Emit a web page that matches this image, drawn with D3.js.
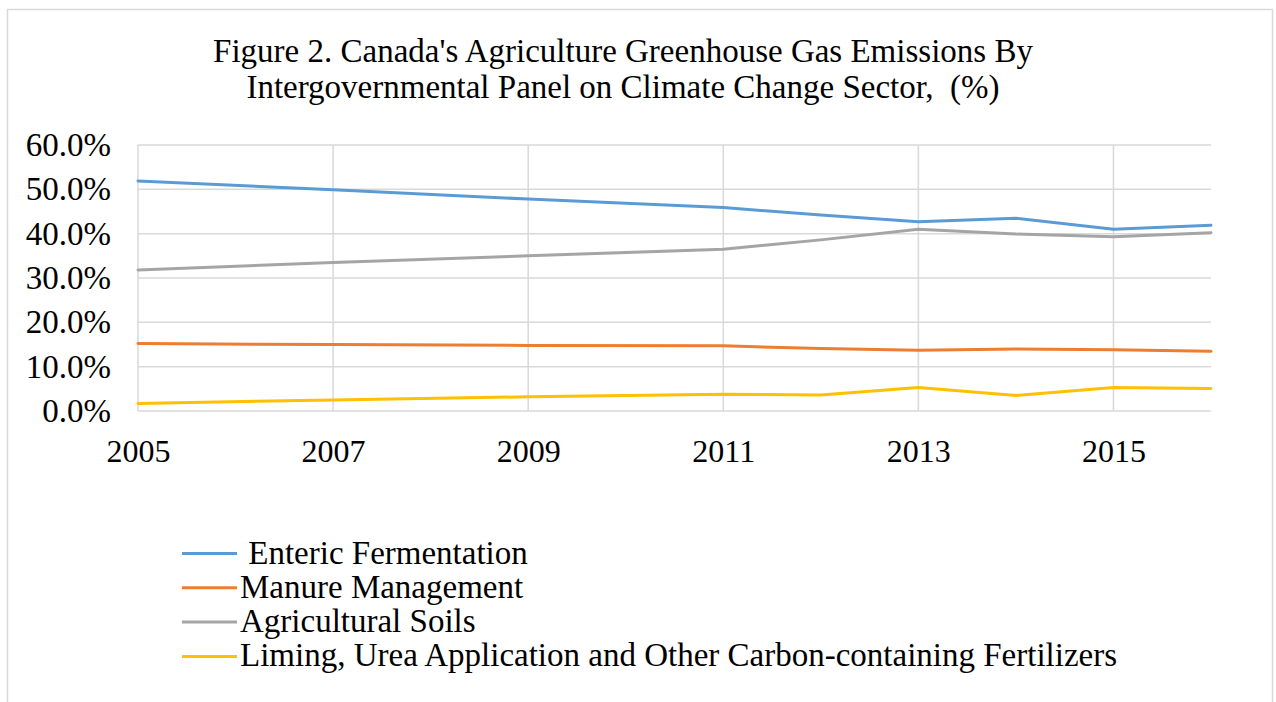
<!DOCTYPE html>
<html>
<head>
<meta charset="utf-8">
<script src="https://cdn.jsdelivr.net/npm/d3@7"></script>
<style>
  html, body { margin: 0; padding: 0; background: #fff; }
  svg { display: block; }
  text { font-family: "Liberation Serif", "Times New Roman", serif; fill: #000; white-space: pre; }
</style>
</head>
<body>
<svg id="chart" width="1276" height="702"></svg>
<script>
const titleLines = [
  "Figure 2. Canada's Agriculture Greenhouse Gas Emissions By",
  "Intergovernmental Panel on Climate Change Sector,  (%)"
];
const years = [2005, 2007, 2009, 2011, 2012, 2013, 2014, 2015, 2016];
const enteric   = [51.9, 49.9, 47.8, 45.9, 44.2, 42.7, 43.5, 41.0, 41.9];
const manure    = [15.2, 15.0, 14.8, 14.7, 14.1, 13.7, 14.0, 13.8, 13.5];
const soils     = [31.8, 33.5, 35.0, 36.5, 38.6, 41.0, 39.9, 39.3, 40.2];
const liming    = [1.7, 2.5, 3.2, 3.8, 3.6, 5.3, 3.5, 5.3, 5.1];
const seriesNames = [
  " Enteric Fermentation",
  "Manure Management",
  "Agricultural Soils",
  "Liming, Urea Application and Other Carbon-containing Fertilizers"
];
const seriesColors = ["#5B9BD5", "#ED7D31", "#A5A5A5", "#FFC000"];
const yTicks = [0, 10, 20, 30, 40, 50, 60];
const xTicks = [2005, 2007, 2009, 2011, 2013, 2015];

const seriesValues = [enteric, manure, soils, liming];

const svg = d3.select("#chart");

// outer frame
svg.append("rect")
  .attr("x", 7.5).attr("y", 9.5)
  .attr("width", 1265).attr("height", 720)
  .attr("fill", "#fff")
  .attr("stroke", "#d9d9d9").attr("stroke-width", 1.5);

// title
svg.append("g").selectAll("text").data(titleLines).join("text")
  .attr("x", 623)
  .attr("y", (d, i) => 62 + i * 36)
  .attr("text-anchor", "middle")
  .attr("font-size", 33)
  .attr("xml:space", "preserve")
  .text(d => d);

const x = d3.scaleLinear().domain([2005, 2016]).range([138, 1211]);
const y = d3.scaleLinear().domain([0, 60]).range([411, 145]);

// gridlines
const grid = svg.append("g");
grid.selectAll("line.h").data(yTicks).join("line")
  .attr("class", "h")
  .attr("x1", x(2005)).attr("x2", x(2016))
  .attr("y1", d => y(d)).attr("y2", d => y(d))
  .attr("stroke", "#d9d9d9").attr("stroke-width", 1.5);
grid.selectAll("line.v").data(xTicks).join("line")
  .attr("class", "v")
  .attr("x1", d => x(d)).attr("x2", d => x(d))
  .attr("y1", y(0)).attr("y2", y(60))
  .attr("stroke", "#d9d9d9").attr("stroke-width", 1.5);

// axes
const yAxis = svg.append("g")
  .attr("transform", `translate(${x(2005)},0)`)
  .call(d3.axisLeft(y).tickValues(yTicks).tickSize(0).tickPadding(27)
    .tickFormat(d => d.toFixed(1) + "%"));
yAxis.select(".domain").remove();
yAxis.selectAll("text").attr("font-size", 33)
  .attr("font-family", "Liberation Serif, serif").attr("fill", "#000");

const xAxis = svg.append("g")
  .attr("transform", `translate(0,${y(0)})`)
  .call(d3.axisBottom(x).tickValues(xTicks).tickSize(0).tickPadding(28)
    .tickFormat(d3.format("d")));
xAxis.select(".domain").remove();
xAxis.selectAll("text").attr("font-size", 32)
  .attr("font-family", "Liberation Serif, serif").attr("fill", "#000");

// lines
const line = d3.line().x((d, i) => x(years[i])).y(d => y(d));
svg.append("g").selectAll("path").data(seriesValues).join("path")
  .attr("d", d => line(d))
  .attr("fill", "none")
  .attr("stroke", (d, i) => seriesColors[i])
  .attr("stroke-width", 3)
  .attr("stroke-linejoin", "round")
  .attr("stroke-linecap", "round");

// legend
const legend = svg.append("g");
const leg = legend.selectAll("g").data(seriesNames).join("g")
  .attr("transform", (d, i) => `translate(182,${553.5 + i * 34.3})`);
leg.append("line")
  .attr("x1", 0).attr("x2", 55).attr("y1", 0).attr("y2", 0)
  .attr("stroke", (d, i) => seriesColors[i]).attr("stroke-width", 3);
leg.append("text")
  .attr("x", 58).attr("y", 10)
  .attr("font-size", 33)
  .attr("xml:space", "preserve")
  .text(d => d);
</script>
</body>
</html>
